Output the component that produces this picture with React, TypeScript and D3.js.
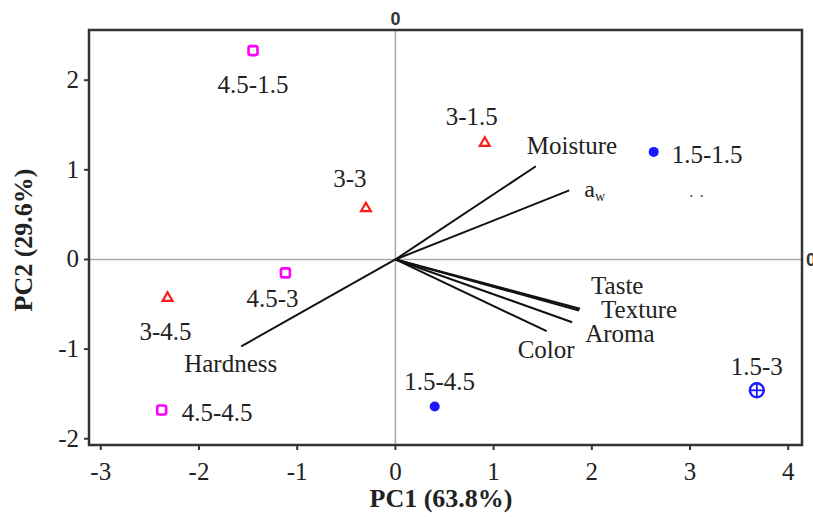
import * as d3 from "d3";

// sample scores
const samples = ["4.5-1.5", "3-1.5", "3-3", "1.5-1.5", "4.5-3", "3-4.5", "4.5-4.5", "1.5-4.5", "1.5-3"];
const pc1Scores = [-1.45, 0.91, -0.3, 2.63, -1.12, -2.32, -2.38, 0.4, 3.68];
const pc2Scores = [2.33, 1.3, 0.57, 1.2, -0.15, -0.43, -1.68, -1.64, -1.46];
const markerKinds = ["square", "triangle", "triangle", "dot", "square", "triangle", "square", "dot", "crossCircle"];

// variable loadings
const variables = ["Moisture", "aw", "Taste", "Texture", "Aroma", "Color", "Hardness"];
const pc1Loadings = [1.43, 1.77, 1.88, 1.87, 1.8, 1.54, -1.57];
const pc2Loadings = [1.04, 0.77, -0.55, -0.57, -0.7, -0.8, -0.97];

const xTicks = [-3, -2, -1, 0, 1, 2, 3, 4];
const yTicks = [-2, -1, 0, 1, 2];
const xTitle = "PC1 (63.8%)";
const yTitle = "PC2 (29.6%)";

// label placement, px offsets from the mark
const sampleLabelPos: Record<string, [number, number, string]> = {
  "4.5-1.5": [0, 42, "middle"],
  "3-1.5": [-13, -18, "middle"],
  "3-3": [-16, -21, "middle"],
  "1.5-1.5": [18, 11, "start"],
  "4.5-3": [-13, 34, "middle"],
  "3-4.5": [-2, 42, "middle"],
  "4.5-4.5": [20, 11, "start"],
  "1.5-4.5": [5, -16, "middle"],
  "1.5-3": [0, -15, "middle"],
};
const varLabelPos: Record<string, [number, number]> = {
  Moisture: [-9, -12],
  aw: [15, 7],
  Taste: [11, -15],
  Texture: [22, 7],
  Aroma: [13, 20],
  Color: [-29, 27],
  Hardness: [-57, 26],
};

const colors: Record<string, string> = {
  square: "#ff00ff",
  triangle: "#ff1a1a",
  dot: "#1a1aff",
  crossCircle: "#1a1aff",
};

const width = 813;
const height = 517;
const plot = { left: 89, right: 802, top: 30, bottom: 445 };
const serif = "'Liberation Serif', 'Times New Roman', serif";
const sans = "'Liberation Sans', Arial, sans-serif";

export default function App() {
  const x = d3.scaleLinear().domain([-3.12, 4.14]).range([plot.left, plot.right]);
  const y = d3.scaleLinear().domain([-2.07, 2.56]).range([plot.bottom, plot.top]);
  const tri = d3.symbol().type(d3.symbolTriangle).size(42)() as string;

  const renderMarker = (kind: string, cx: number, cy: number) => {
    const c = colors[kind];
    if (kind === "square") {
      return <rect x={cx - 4.5} y={cy - 4.5} width={9} height={9} rx={2} fill="none" stroke={c} strokeWidth={2.6} />;
    }
    if (kind === "triangle") {
      return <path d={tri} transform={`translate(${cx},${cy})`} fill="none" stroke={c} strokeWidth={2.2} />;
    }
    if (kind === "dot") {
      return <circle cx={cx} cy={cy} r={5} fill={c} />;
    }
    return (
      <g>
        <circle cx={cx} cy={cy} r={7} fill="none" stroke={c} strokeWidth={2.4} />
        <line x1={cx - 7} x2={cx + 7} y1={cy} y2={cy} stroke={c} strokeWidth={1.8} />
        <line x1={cx} x2={cx} y1={cy - 7} y2={cy + 7} stroke={c} strokeWidth={1.8} />
      </g>
    );
  };

  return (
    <svg
      width={width}
      height={height}
      style={{ position: "absolute", left: 0, top: 0, background: "#fff" }}
      fontFamily={serif}
    >
      {/* zero reference lines */}
      <line x1={x(0)} x2={x(0)} y1={plot.top} y2={plot.bottom} stroke="#aaa" strokeWidth={1.5} />
      <line x1={plot.left} x2={plot.right} y1={y(0)} y2={y(0)} stroke="#aaa" strokeWidth={1.5} />

      {/* frame */}
      <rect
        x={plot.left}
        y={plot.top}
        width={plot.right - plot.left}
        height={plot.bottom - plot.top}
        fill="none"
        stroke="#333"
        strokeWidth={2.5}
      />

      {/* x axis */}
      {xTicks.map((t) => (
        <g key={`x${t}`}>
          <line x1={x(t)} x2={x(t)} y1={plot.bottom} y2={plot.bottom + 5} stroke="#333" strokeWidth={2} />
          <text x={x(t)} y={480} textAnchor="middle" fontSize={25} fill="#222">
            {t < 0 ? `-${Math.abs(t)}` : t}
          </text>
        </g>
      ))}
      {/* y axis */}
      {yTicks.map((t) => (
        <g key={`y${t}`}>
          <line x1={plot.left - 5} x2={plot.left} y1={y(t)} y2={y(t)} stroke="#333" strokeWidth={2} />
          <text x={plot.left - 10} y={y(t) + 8} textAnchor="end" fontSize={25} fill="#222">
            {t < 0 ? `-${Math.abs(t)}` : t}
          </text>
        </g>
      ))}

      <text x={441} y={507} textAnchor="middle" fontSize={26} fontWeight="bold" fill="#222">
        {xTitle}
      </text>
      <text
        transform={`translate(32,240) rotate(-90)`}
        textAnchor="middle"
        fontSize={26}
        fontWeight="bold"
        fill="#222"
      >
        {yTitle}
      </text>

      {/* secondary axis zeros */}
      <text x={x(0)} y={25} textAnchor="middle" fontSize={18} fontWeight="bold" fontFamily={sans} fill="#333">
        0
      </text>
      <text x={806} y={266} fontSize={18} fontWeight="bold" fontFamily={sans} fill="#333">
        0
      </text>

      {/* loading vectors */}
      {variables.map((v, i) => {
        const ex = x(pc1Loadings[i]);
        const ey = y(pc2Loadings[i]);
        const [dx, dy] = varLabelPos[v];
        return (
          <g key={v}>
            <line x1={x(0)} y1={y(0)} x2={ex} y2={ey} stroke="#111" strokeWidth={2} />
            {v === "aw" ? (
              <text x={ex + dx} y={ey + dy} fontSize={24} fill="#222">
                a<tspan fontSize={14} dy={4}>w</tspan>
              </text>
            ) : (
              <text x={ex + dx} y={ey + dy} fontSize={25} fill="#222">
                {v}
              </text>
            )}
          </g>
        );
      })}

      <text x={689} y={197} fontSize={18} fill="#666" letterSpacing={6}>
        ..
      </text>

      {/* sample scores */}
      {samples.map((s, i) => {
        const cx = x(pc1Scores[i]);
        const cy = y(pc2Scores[i]);
        const [dx, dy, anchor] = sampleLabelPos[s];
        return (
          <g key={s}>
            {renderMarker(markerKinds[i], cx, cy)}
            <text x={cx + dx} y={cy + dy} textAnchor={anchor as any} fontSize={25} fill="#222">
              {s}
            </text>
          </g>
        );
      })}
    </svg>
  );
}
